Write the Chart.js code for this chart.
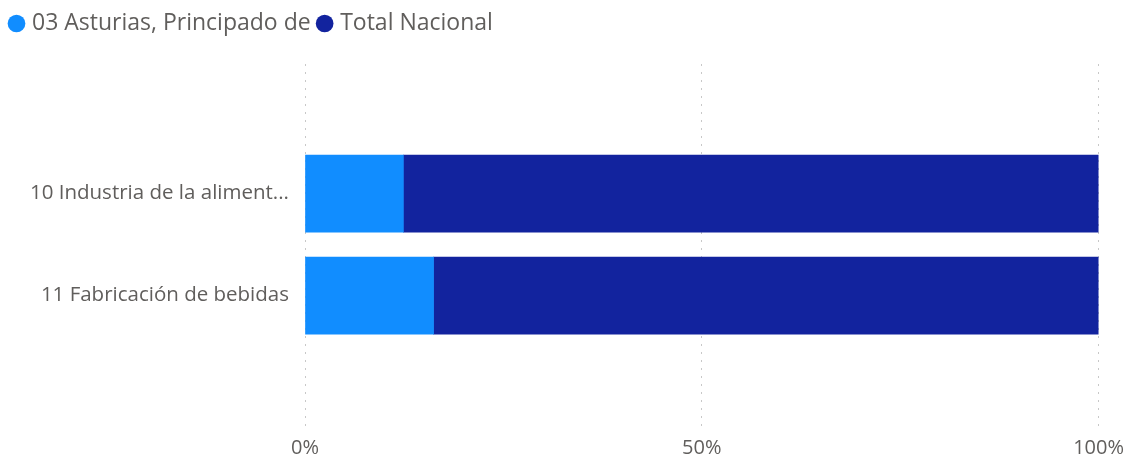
<!DOCTYPE html>
<html>
<head>
<meta charset="utf-8">
<script src="https://cdn.jsdelivr.net/npm/chart.js@4/dist/chart.umd.min.js"></script>
<style>
  html, body { margin: 0; padding: 0; background: #fff; }
  #wrap { width: 1130px; height: 459px; position: relative; }
</style>
</head>
<body>
<div id="wrap"><canvas id="chart"></canvas></div>
<script>
// Datos (porcentaje de cada barra)
const categories = ["10 Industria de la alimentación", "11 Fabricación de bebidas"];
const asturias = [12.4, 16.2];
const totalNacional = [87.6, 83.8];
const xTicks = [0, 50, 100];

const FONT = "'Open Sans', 'Noto Sans', sans-serif";
const GRIS = "#605E5C";

// Acorta etiquetas largas como hace el original
function shortLabel(txt) {
    return txt.length > 26 ? txt.slice(0, 26) + "..." : txt;
}

function toPoints(values) {
    return values.map((v, i) => ({ x: v, y: i }));
}

// Deja más aire bajo la leyenda
const legendGap = {
    id: "legendGap",
    beforeLayout(chart) {
        const legend = chart.legend;
        if (!legend || legend._gapPatched) return;
        const fit = legend.fit.bind(legend);
        legend.fit = function () {
            fit();
            this.height += 19;
        };
        legend._gapPatched = true;
    }
};

const ctx = document.getElementById("chart").getContext("2d");

new Chart(ctx, {
    type: "bar",
    data: {
        datasets: [
            {
                label: "03 Asturias, Principado de",
                data: toPoints(asturias),
                backgroundColor: "#118DFF",
                borderWidth: 0,
                barThickness: 77
            },
            {
                label: "Total Nacional",
                data: toPoints(totalNacional),
                backgroundColor: "#12239E",
                borderWidth: 0,
                barThickness: 77
            }
        ]
    },
    options: {
        indexAxis: "y",
        responsive: true,
        maintainAspectRatio: false,
        animation: false,
        layout: { padding: { left: 2.5, right: 30, top: 2, bottom: 0 } },
        plugins: {
            legend: {
                position: "top",
                align: "start",
                labels: {
                    usePointStyle: true,
                    pointStyle: "circle",
                    boxWidth: 8,
                    boxHeight: 12.5,
                    padding: 10,
                    color: GRIS,
                    font: { family: FONT, size: 23 }
                }
            },
            tooltip: { enabled: false }
        },
        scales: {
            x: {
                stacked: true,
                min: 0,
                max: 100,
                afterBuildTicks: axis => { axis.ticks = xTicks.map(v => ({ value: v })); },
                afterFit: axis => { axis.height = 29; },
                border: { display: false, dash: [2, 6] },
                grid: {
                    color: "#C8C8C8",
                    lineWidth: 1,
                    drawTicks: false
                },
                ticks: {
                    padding: 6,
                    color: GRIS,
                    font: { family: FONT, size: 20 },
                    callback: v => v + "%"
                }
            },
            y: {
                type: "linear",
                stacked: true,
                reverse: true,
                offset: false,
                min: -1.27,
                max: 2.318,
                afterBuildTicks: axis => { axis.ticks = categories.map((c, i) => ({ value: i })); },
                afterFit: axis => { axis.width = 302.5; },
                border: { display: false },
                grid: { display: false, drawTicks: false },
                ticks: {
                    padding: 16,
                    color: GRIS,
                    font: { family: FONT, size: 20.5 },
                    callback: v => shortLabel(categories[v] || "")
                }
            }
        }
    },
    plugins: [legendGap]
});
</script>
</body>
</html>
